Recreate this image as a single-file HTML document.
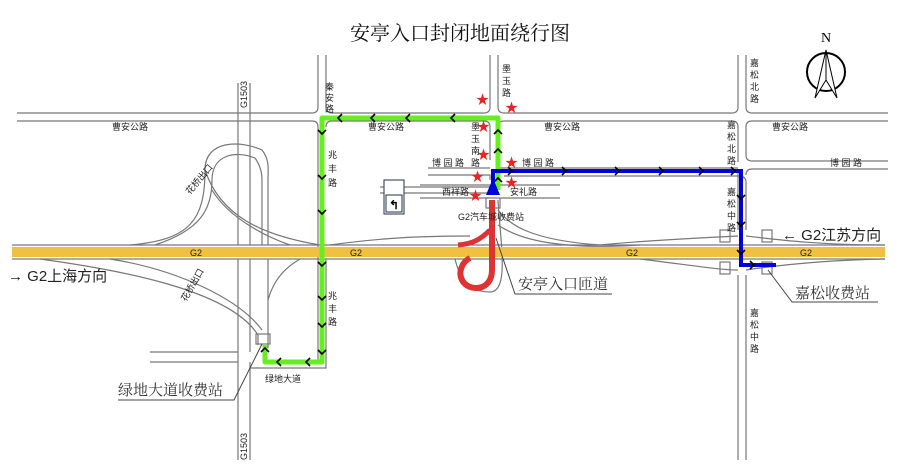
<!DOCTYPE html>
<html><head><meta charset="utf-8"><style>
html,body{margin:0;padding:0;background:#fff;}
svg{display:block;font-family:"Liberation Sans","Noto Sans CJK SC",sans-serif;}
.r{stroke:#777;stroke-width:1.2;fill:none;}
.s{font-size:9px;fill:#222;}
.b{font-size:15px;fill:#222;}
</style></head><body>
<svg width="900" height="471" viewBox="0 0 900 471">
<rect width="900" height="471" fill="#fff"/>
<text x="460" y="40" text-anchor="middle" font-size="20" font-family="Liberation Serif,Noto Serif CJK SC,serif" fill="#111">安亭入口封闭地面绕行图</text>

<!-- compass -->
<text x="826" y="42" font-size="14" font-family="Liberation Serif,serif" text-anchor="middle">N</text>
<circle cx="826" cy="72" r="19" fill="none" stroke="#000" stroke-width="2"/>
<polygon points="826,50 815,98 826,80" fill="#fff" stroke="#000"/>
<polygon points="826,50 837,98 826,80" fill="#fff" stroke="#000"/>

<!-- 曹安公路 -->
<g class="r">
<path d="M17 113 H312 Q318 113 318 107 V55"/>
<path d="M326 55 V107 Q326 113 332 113 H484 Q490 113 490 107 V55"/>
<path d="M498 55 V107 Q498 113 504 113 H732 Q738 113 738 107 V55"/>
<path d="M746 55 V107 Q746 113 752 113 H888"/>
<path d="M17 121 H312 Q318 121 318 127 V362"/>
<path d="M326 127 Q326 121 332 121 H484 Q490 121 490 127 V160"/>
<path d="M498 127 Q498 121 504 121 H732 Q738 121 738 127 V162"/>
<path d="M746 127 Q746 121 752 121 H888"/>
<path d="M752 161 Q746 161 746 155 V127"/>
<path d="M752 161 H888"/>
<path d="M746 175 Q746 169 752 169 H888"/>
<path d="M428 168 H490 M428 175 H490 V180"/>
<path d="M498 168 V160 M498 168 H738 M504 176 H738 Q746 176 746 182"/>
<path d="M380 187 H490 M380 193 H490"/>
<path d="M420 185 H490 M420 198 H490 M500 185 H560 M500 198 H560"/>
<path d="M738 169 V230 M738 275 V460 M746 182 V230 M746 275 V460"/>
<!-- G1503 -->
<path d="M238 83 V245 M250 83 V245 M238 259 V460 M250 259 V352 M250 362 V460"/>
<path d="M150 352 H238 M150 362 H238"/>
<path d="M326 259 V368 H250"/>
<!-- G2 borders -->
<path d="M12 245 H885 M12 259 H885"/>
<!-- cloverleaf -->
<path d="M130 245 C190 240 205 220 205 170 C205 140 240 140 262 150 C270 160 268 170 268 180 V245"/>
<path d="M155 245 C200 230 212 210 212 180 C212 155 235 150 255 158 C260 165 262 172 262 180 V245"/>
<path d="M205 170 C220 215 260 235 320 245"/>
<path d="M212 190 C230 220 270 238 290 245"/>
<path d="M40 259 C120 270 230 290 258 335 V345"/>
<path d="M110 259 C180 270 240 300 262 330"/>
<path d="M268 259 V300 C275 275 290 265 300 259"/>
<path d="M268 300 V348"/>
<!-- main ramp area -->
<path d="M330 245 C380 238 420 236 470 236"/>
<path d="M498 210 C510 225 530 240 600 245"/>
<path d="M498 225 C520 240 560 250 640 245"/>
<path d="M455 259 C460 280 470 292 490 292 C510 292 500 240 498 200"/>
<path d="M600 245 C650 240 700 238 738 236 M746 236 C780 240 820 245 885 245"/>
<path d="M640 259 C690 265 720 270 738 270 M746 270 C780 265 830 260 885 259"/>
<rect x="720" y="230" width="10" height="12"/><rect x="762" y="230" width="10" height="12"/>
<rect x="720" y="262" width="10" height="12"/><rect x="762" y="262" width="10" height="12"/>
<rect x="256" y="334" width="14" height="10"/>
<rect x="486" y="198" width="14" height="10"/>
</g>
<rect x="12" y="247" width="873" height="10" fill="#f0c040"/>
<text x="190" y="256" class="s">G2</text><text x="350" y="256" class="s">G2</text><text x="626" y="256" class="s">G2</text><text x="800" y="256" class="s">G2</text>

<!-- sign -->
<rect x="384" y="180" width="20" height="34" fill="#fff" stroke="#234" stroke-width="1"/>
<rect x="386" y="195" width="16" height="17" fill="#fff" stroke="#234"/>
<text x="394" y="209" font-size="12" text-anchor="middle" font-weight="bold">↰</text>

<!-- red ramp -->
<path d="M492 200 V270 C492 292 468 292 462 280 C458 272 462 262 470 258" stroke="#d33" stroke-width="6" fill="none"/>
<path d="M490 230 C480 240 472 244 458 245" stroke="#d33" stroke-width="5" fill="none"/>

<!-- green route -->
<path d="M498 190 V118 H322 V362 H265 V345" stroke="#6e2" stroke-width="5" fill="none" stroke-linejoin="round"/>
<g stroke="#000" stroke-width="1.6" fill="none">
<path d="M342 114 l-4 4 4 4 M375 114 l-4 4 4 4 M410 114 l-4 4 4 4 M455 114 l-4 4 4 4"/>
<path d="M318 130 l4 4 4-4 M318 175 l4 4 4-4 M318 210 l4 4 4-4 M318 262 l4 4 4-4 M318 296 l4 4 4-4 M318 323 l4 4 4-4 M318 350 l4 4 4-4"/>
<path d="M281 358 l-4 4 4 4 M310 358 l-4 4 4 4 M261 352 l4-4 4 4"/>
<path d="M494 134 l4-4 4 4 M494 153 l4-4 4 4 M494 182 l4-4 4 4"/>
</g>
<!-- blue route -->
<path d="M493 185 V171 H741 V265 H776" stroke="#00d" stroke-width="4" fill="none"/>
<polygon points="493,178 486,195 500,195" fill="#00d"/>
<g stroke="#000" stroke-width="1.6" fill="none">
<path d="M508 167 l4 4-4 4 M562 167 l4 4-4 4 M615 167 l4 4-4 4 M659 167 l4 4-4 4 M699 167 l4 4-4 4 M731 167 l4 4-4 4"/>
<path d="M737 195 l4 4 4-4 M737 222 l4 4 4-4 M737 250 l4 4 4-4 M750 261 l4 4-4 4"/>
</g>

<!-- stars -->
<g fill="#e22" font-size="13">
<text x="476" y="104">★</text><text x="505" y="112">★</text><text x="477" y="131">★</text><text x="477" y="159">★</text><text x="505" y="167">★</text><text x="471" y="181">★</text><text x="505" y="187">★</text><text x="469" y="200">★</text>
</g>

<!-- small labels -->
<g class="s">
<text x="112" y="130">曹安公路</text><text x="368" y="130">曹安公路</text><text x="544" y="130">曹安公路</text><text x="772" y="130">曹安公路</text>
<text x="432" y="166">博 园 路</text><text x="522" y="166">博 园 路</text><text x="830" y="166">博 园 路</text>
<text x="442" y="195">西祥路</text><text x="510" y="195">安礼路</text>
<text x="458" y="220">G2汽车城收费站</text>
<text x="265" y="382">绿地大道</text>
<text x="325" y="90">秦</text><text x="325" y="101">安</text><text x="325" y="112">路</text>
<text x="502" y="72">墨</text><text x="502" y="84">玉</text><text x="502" y="96">路</text>
<text x="471" y="130">墨</text><text x="471" y="142">玉</text><text x="471" y="154">南</text><text x="471" y="166">路</text>
<text x="328" y="158">兆</text><text x="328" y="172">丰</text><text x="328" y="186">路</text>
<text x="328" y="299">兆</text><text x="328" y="312">丰</text><text x="328" y="325">路</text>
<text x="750" y="66">嘉</text><text x="750" y="78">松</text><text x="750" y="90">北</text><text x="750" y="102">路</text>
<text x="727" y="128">嘉</text><text x="727" y="140">松</text><text x="727" y="152">北</text><text x="727" y="164">路</text>
<text x="727" y="195">嘉</text><text x="727" y="207">松</text><text x="727" y="219">中</text><text x="727" y="231">路</text>
<text x="750" y="316">嘉</text><text x="750" y="328">松</text><text x="750" y="340">中</text><text x="750" y="352">路</text>
<text transform="translate(247,108) rotate(-90)">G1503</text>
<text transform="translate(247,460) rotate(-90)">G1503</text>
<text transform="translate(190,195) rotate(-50)">花桥出口</text>
<text transform="translate(186,302) rotate(-60)">花桥出口</text>
</g>

<!-- big labels -->
<g class="b">
<text x="8" y="281">→ G2上海方向</text>
<text x="782" y="240">← G2江苏方向</text>
</g>
<g font-size="15" font-family="Liberation Serif,Noto Serif CJK SC,serif" fill="#333">
<text x="518" y="289">安亭入口匝道</text>
<text x="795" y="298">嘉松收费站</text>
<text x="118" y="395">绿地大道收费站</text>
</g>
<g stroke="#444" stroke-width="1" fill="none">
<path d="M496 238 L515 294 H612"/>
<path d="M768 270 L792 302 H878"/>
<path d="M262 344 L234 400 H118"/>
</g>
</svg>
</body></html>
